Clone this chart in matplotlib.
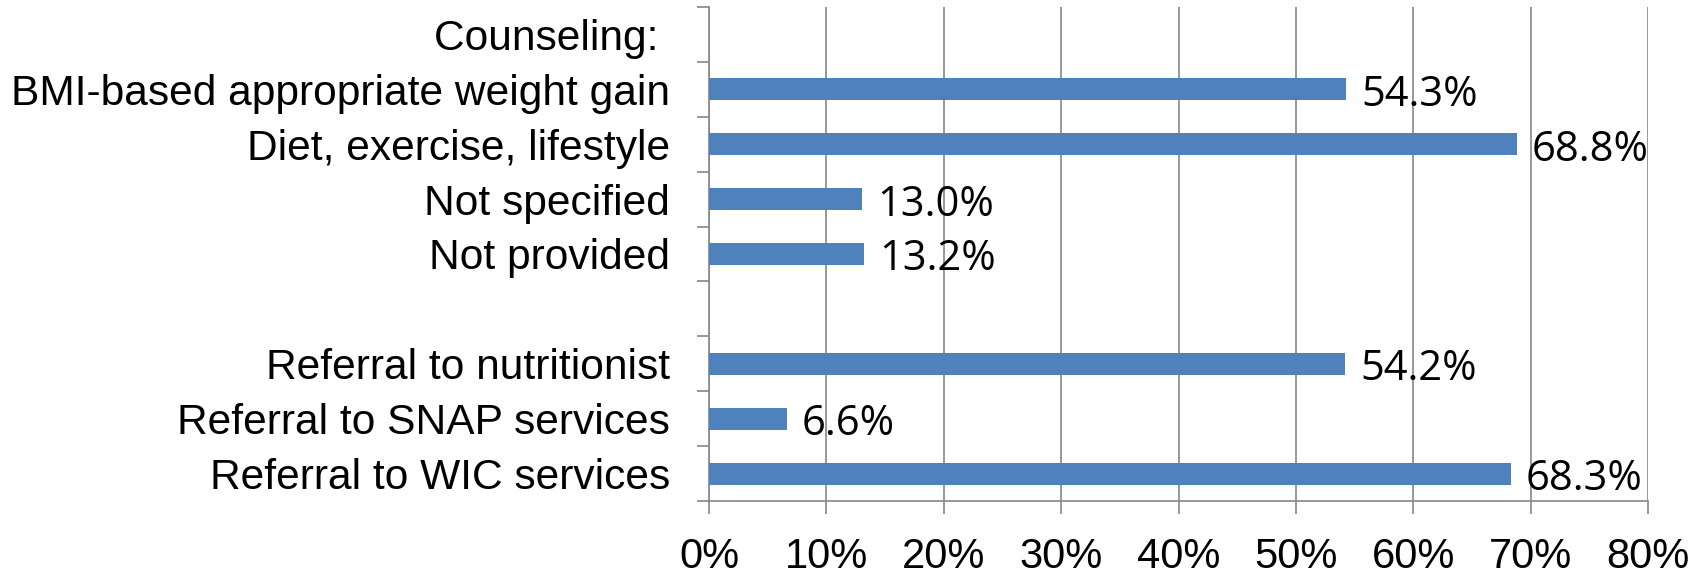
import matplotlib.pyplot as plt
import numpy as np

# Categories top to bottom (empty slot is a spacer row)
categories = ['Counseling: ', 'BMI-based appropriate weight gain', 'Diet, exercise, lifestyle',
              'Not specified', 'Not provided', '',
              'Referral to nutritionist', 'Referral to SNAP services', 'Referral to WIC services']
values = [None, 54.3, 68.8, 13.0, 13.2, None, 54.2, 6.6, 68.3]
xticks = [0, 10, 20, 30, 40, 50, 60, 70, 80]

BAR_COLOR = '#4F81BD'
GRID_COLOR = '#868686'

fig = plt.figure(figsize=(17.07, 5.74), dpi=100)
ax = fig.add_axes([0.4154, 0.1272, 0.5501, 0.8606])

pos = np.arange(len(categories))
for p, v in zip(pos, values):
    if v is None:
        continue
    ax.barh(p, v, height=0.4, color=BAR_COLOR, zorder=3)
    ax.text(v + 1.3, p + 0.1, f'{v:.1f}%', va='center', ha='left',
            fontsize=30, family='Open Sans', color='black', zorder=4)

ax.set_ylim(len(categories) - 0.5, -0.5)
ax.set_xlim(0, 80)

# Category labels at centers, tick marks at boundaries
ax.set_yticks(pos)
ax.set_yticklabels(categories, fontsize=30.6, family='Liberation Sans')
ax.set_yticks(np.arange(len(categories) + 1) - 0.5, minor=True)
ax.tick_params(axis='y', which='major', length=0, pad=28)
ax.tick_params(axis='y', which='minor', length=9, width=1.2, color=GRID_COLOR)

ax.set_xticks(xticks)
ax.set_xticklabels([f'{t}%' for t in xticks], fontsize=30, family='Liberation Sans')
ax.tick_params(axis='x', length=9, width=1.2, color=GRID_COLOR, pad=17)

ax.grid(axis='x', color=GRID_COLOR, linewidth=1.2, zorder=0)
for s in ['top', 'right']:
    ax.spines[s].set_visible(False)
for s in ['left', 'bottom']:
    ax.spines[s].set_color(GRID_COLOR)
    ax.spines[s].set_linewidth(1.2)

fig.savefig('out.png', dpi=100)
